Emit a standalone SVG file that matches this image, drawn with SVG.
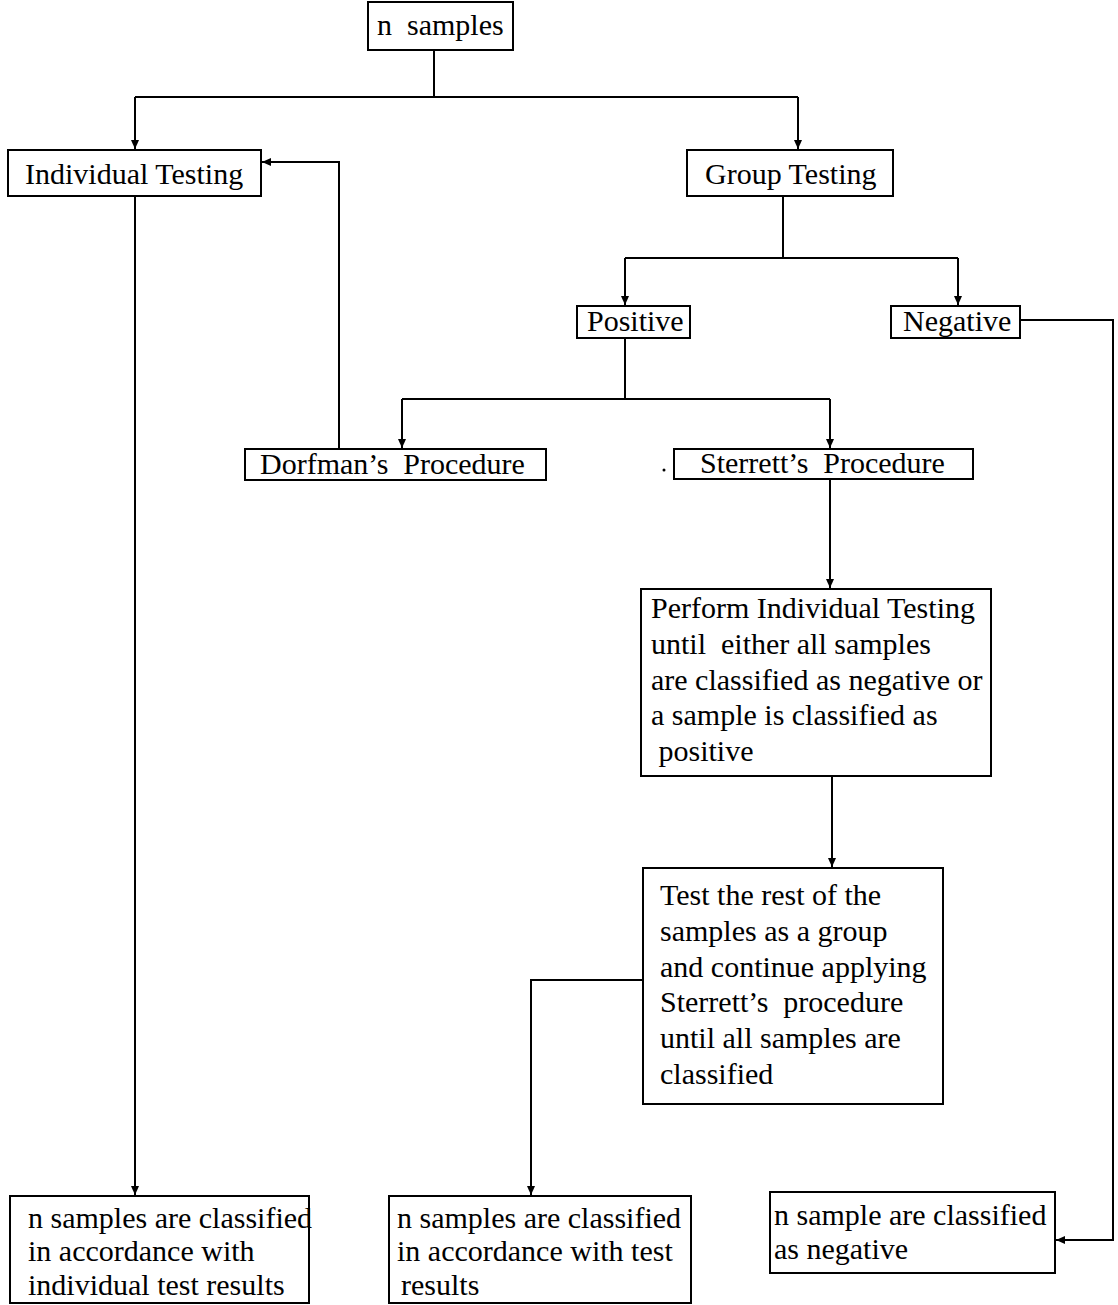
<svg xmlns="http://www.w3.org/2000/svg" width="1118" height="1305" viewBox="0 0 1118 1305">
<style>
.box{fill:#fff;stroke:#000;stroke-width:2}
.t{font-family:"Liberation Serif","Times New Roman",serif;font-size:30px;fill:#000}
.c{fill:none;stroke:#000;stroke-width:2}
</style>
<defs>
<marker id="ah" markerUnits="userSpaceOnUse" markerWidth="10" markerHeight="10" refX="9" refY="4" orient="auto">
<path d="M0,0 L9,4 L0,8 z" fill="#000"/>
</marker>
</defs>
<rect width="1118" height="1305" fill="#fff"/>
<g id="connectors">
<path class="c" d="M434,50 V97"/>
<path class="c" d="M135,97 H798"/>
<path class="c" d="M135,97 V149" marker-end="url(#ah)"/>
<path class="c" d="M798,97 V149" marker-end="url(#ah)"/>
<path class="c" d="M783,196 V258"/>
<path class="c" d="M625,258 H958"/>
<path class="c" d="M625,258 V305" marker-end="url(#ah)"/>
<path class="c" d="M958,258 V305" marker-end="url(#ah)"/>
<path class="c" d="M1020,320 H1113 V1240 H1056" marker-end="url(#ah)"/>
<path class="c" d="M625,338 V399"/>
<path class="c" d="M402,399 H830"/>
<path class="c" d="M402,399 V448" marker-end="url(#ah)"/>
<path class="c" d="M830,399 V448" marker-end="url(#ah)"/>
<path class="c" d="M339,449 V162 H262" marker-end="url(#ah)"/>
<path class="c" d="M830,479 V588" marker-end="url(#ah)"/>
<path class="c" d="M832,776 V867" marker-end="url(#ah)"/>
<path class="c" d="M643,980 H531 V1195" marker-end="url(#ah)"/>
<path class="c" d="M135,196 V1195" marker-end="url(#ah)"/>
</g>
<g id="n-samples">
<rect class="box" x="368" y="2" width="145" height="48"/>
<text class="t" x="377" y="35" xml:space="preserve">n  samples</text>
</g>
<g id="individual-testing">
<rect class="box" x="8" y="150" width="253" height="46"/>
<text class="t" x="25" y="184">Individual Testing</text>
</g>
<g id="group-testing">
<rect class="box" x="687" y="150" width="206" height="46"/>
<text class="t" x="705" y="184">Group Testing</text>
</g>
<g id="positive">
<rect class="box" x="577" y="306" width="113" height="32"/>
<text class="t" x="587" y="331">Positive</text>
</g>
<g id="negative">
<rect class="box" x="891" y="306" width="129" height="32"/>
<text class="t" x="903" y="331">Negative</text>
</g>
<g id="dorfman">
<rect class="box" x="245" y="449" width="301" height="31"/>
<text class="t" x="260" y="474" xml:space="preserve">Dorfman’s  Procedure</text>
</g>
<g id="sterrett">
<circle cx="664" cy="470" r="1.5" fill="#000"/>
<rect class="box" x="674" y="449" width="299" height="30"/>
<text class="t" x="700" y="473" xml:space="preserve">Sterrett’s  Procedure</text>
</g>
<g id="perform">
<rect class="box" x="641" y="589" width="350" height="187"/>
<text class="t" x="651" y="618">Perform Individual Testing</text>
<text class="t" x="651" y="654" xml:space="preserve">until  either all samples</text>
<text class="t" x="651" y="690">are classified as negative or</text>
<text class="t" x="651" y="725">a sample is classified as</text>
<text class="t" x="651" y="761" xml:space="preserve"> positive</text>
</g>
<g id="test-rest">
<rect class="box" x="643" y="868" width="300" height="236"/>
<text class="t" x="660" y="905">Test the rest of the</text>
<text class="t" x="660" y="941">samples as a group</text>
<text class="t" x="660" y="977">and continue applying</text>
<text class="t" x="660" y="1012" xml:space="preserve">Sterrett’s  procedure</text>
<text class="t" x="660" y="1048">until all samples are</text>
<text class="t" x="660" y="1084">classified</text>
</g>
<g id="result-individual">
<rect class="box" x="10" y="1196" width="299" height="107"/>
<text class="t" x="28" y="1228">n samples are classified</text>
<text class="t" x="28" y="1261">in accordance with</text>
<text class="t" x="28" y="1295">individual test results</text>
</g>
<g id="result-test">
<rect class="box" x="389" y="1196" width="302" height="107"/>
<text class="t" x="397" y="1228">n samples are classified</text>
<text class="t" x="397" y="1261">in accordance with test</text>
<text class="t" x="401" y="1295">results</text>
</g>
<g id="result-negative">
<rect class="box" x="770" y="1192" width="285" height="81"/>
<text class="t" x="774" y="1225">n sample are classified</text>
<text class="t" x="774" y="1259">as negative</text>
</g>
</svg>
